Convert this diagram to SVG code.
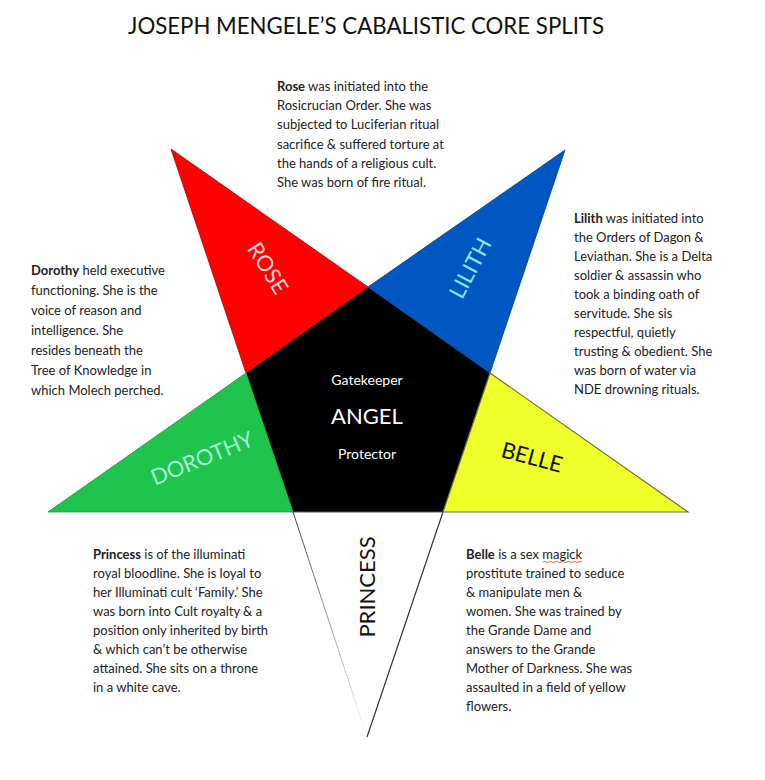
<svg xmlns="http://www.w3.org/2000/svg" width="765" height="780" viewBox="0 0 765 780">
<defs>
<style>
.t{font-family:Lato,"Liberation Sans",sans-serif;font-size:13px;fill:#222}
.b{font-weight:bold}
.lbl{font-family:Lato,"Liberation Sans",sans-serif;font-size:22px;text-anchor:middle}
.ctr{font-family:Lato,"Liberation Sans",sans-serif;fill:#fff;text-anchor:middle}
</style>
<linearGradient id="fade" gradientUnits="userSpaceOnUse" x1="293" y1="512" x2="367" y2="737">
<stop offset="0" stop-color="#444"/><stop offset="0.85" stop-color="#ddd"/><stop offset="1" stop-color="#fff"/>
</linearGradient>
</defs>
<rect width="765" height="780" fill="#fff"/>
<text x="128" y="34" textLength="476" lengthAdjust="spacingAndGlyphs" style="font-family:Lato,'Liberation Sans',sans-serif;font-size:23px;fill:#111">JOSEPH MENGELE’S CABALISTIC CORE SPLITS</text>

<g id="angel">
<polygon points="368,287 490,373 443,512 293,512 246,373" fill="#000"/>
<text class="ctr" x="367" y="385" font-size="14">Gatekeeper</text>
<text class="ctr" x="367" y="424" font-size="22">ANGEL</text>
<text class="ctr" x="367" y="459" font-size="14">Protector</text>
</g>
<g id="rose">
<polygon points="171,149 368,287 246,373" fill="#FF0000" stroke="#B00000" stroke-width="0.8"/>
<text class="lbl" fill="#FFD8D8" transform="translate(268,268) rotate(58)" y="8">ROSE</text>
</g>
<g id="lilith">
<polygon points="565,150 490,373 368,287" fill="#0057C2" stroke="#003A8A" stroke-width="0.8"/>
<text class="lbl" fill="#8EE6F7" transform="translate(470,268) rotate(-62)" y="8">LILITH</text>
</g>
<g id="belle">
<polygon points="688,512 443,512 490,373" fill="#EEFF2A" stroke="#6E6E34" stroke-width="1.2"/>
<text class="lbl" fill="#111" transform="translate(532,457) rotate(15)" y="8">BELLE</text>
</g>
<g id="dorothy">
<polygon points="48,512 246,373 293,512" fill="#1EC44C" stroke="#169A3A" stroke-width="0.8"/>
<text class="lbl" fill="#A6F7D6" transform="translate(202,458) rotate(-22)" y="8">DOROTHY</text>
</g>
<g id="princess">
<polygon points="293,512 443,512 367,737" fill="#fff"/>
<line x1="293" y1="512" x2="367" y2="737" stroke="url(#fade)" stroke-width="1"/>
<line x1="443" y1="512" x2="367" y2="737" stroke="#333" stroke-width="1.2"/>
<line x1="293" y1="512" x2="443" y2="512" stroke="#555" stroke-width="1"/>
<text class="lbl" fill="#111" transform="translate(367,587) rotate(-90)" y="8">PRINCESS</text>
</g>

<g id="rose-text">
<text class="t" x="277" y="91"><tspan class="b">Rose</tspan> was initiated into the</text>
<text class="t" x="277" y="110">Rosicrucian Order. She was</text>
<text class="t" x="277" y="129">subjected to Luciferian ritual</text>
<text class="t" x="277" y="149">sacrifice &amp; suffered torture at</text>
<text class="t" x="277" y="168">the hands of a religious cult.</text>
<text class="t" x="277" y="187">She was born of fire ritual.</text>
</g>
<g id="lilith-text">
<text class="t" x="574" y="223"><tspan class="b">Lilith</tspan> was initiated into</text>
<text class="t" x="574" y="242">the Orders of Dagon &amp;</text>
<text class="t" x="574" y="261">Leviathan. She is a Delta</text>
<text class="t" x="574" y="280">soldier &amp; assassin who</text>
<text class="t" x="574" y="299">took a binding oath of</text>
<text class="t" x="574" y="318">servitude. She sis</text>
<text class="t" x="574" y="337">respectful, quietly</text>
<text class="t" x="574" y="356">trusting &amp; obedient. She</text>
<text class="t" x="574" y="375">was born of water via</text>
<text class="t" x="574" y="394">NDE drowning rituals.</text>
</g>
<g id="dorothy-text">
<text class="t" x="31" y="275"><tspan class="b">Dorothy</tspan> held executive</text>
<text class="t" x="31" y="295">functioning. She is the</text>
<text class="t" x="31" y="315">voice of reason and</text>
<text class="t" x="31" y="335">intelligence. She</text>
<text class="t" x="31" y="355">resides beneath the</text>
<text class="t" x="31" y="375">Tree of Knowledge in</text>
<text class="t" x="31" y="395">which Molech perched.</text>
</g>
<g id="princess-text">
<text class="t" x="93" y="559"><tspan class="b">Princess</tspan> is of the illuminati</text>
<text class="t" x="93" y="578">royal bloodline. She is loyal to</text>
<text class="t" x="93" y="597">her Illuminati cult ‘Family.’ She</text>
<text class="t" x="93" y="616">was born into Cult royalty &amp; a</text>
<text class="t" x="93" y="635">position only inherited by birth</text>
<text class="t" x="93" y="654">&amp; which can’t be otherwise</text>
<text class="t" x="93" y="673">attained. She sits on a throne</text>
<text class="t" x="93" y="692">in a white cave.</text>
</g>
<g id="belle-text">
<text class="t" x="466" y="559"><tspan class="b">Belle</tspan> is a sex magick</text>
<text class="t" x="466" y="578">prostitute trained to seduce</text>
<text class="t" x="466" y="597">&amp; manipulate men &amp;</text>
<text class="t" x="466" y="616">women. She was trained by</text>
<text class="t" x="466" y="635">the Grande Dame and</text>
<text class="t" x="466" y="654">answers to the Grande</text>
<text class="t" x="466" y="673">Mother of Darkness. She was</text>
<text class="t" x="466" y="692">assaulted in a field of yellow</text>
<text class="t" x="466" y="711">flowers.</text>
<path d="M543,562 q1.5,-1.5 3,0 t3,0 t3,0 t3,0 t3,0 t3,0 t3,0 t3,0 t3,0 t3,0 t3,0 t3,0 t3,0" fill="none" stroke="#E03030" stroke-width="0.8"/>
</g>
</svg>
